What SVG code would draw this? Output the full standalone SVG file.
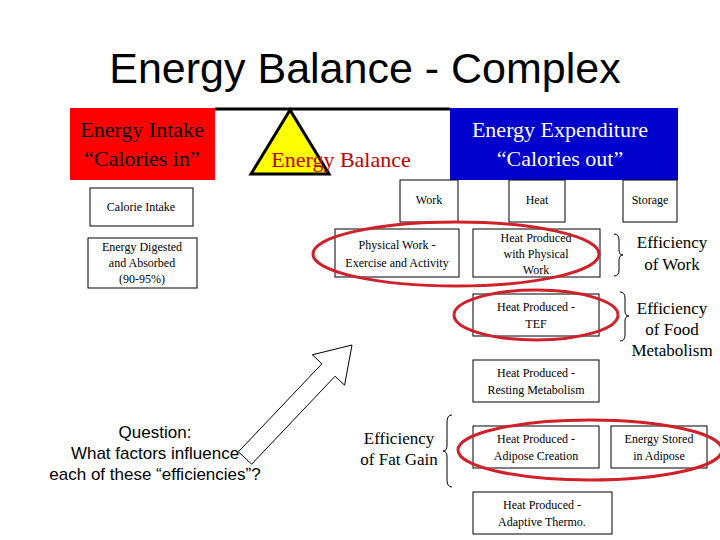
<svg xmlns="http://www.w3.org/2000/svg" width="720" height="540" viewBox="0 0 720 540">
<style>
.b{fill:#fff;stroke:#000;stroke-width:1}
.t{font-family:'Liberation Serif','Times New Roman',serif;font-size:12px;text-anchor:middle;fill:#000}
.e{font-family:'Liberation Serif','Times New Roman',serif;font-size:17px;text-anchor:middle;fill:#000}
.h{font-family:'Liberation Serif','Times New Roman',serif;font-size:22px;text-anchor:middle}
.r{fill:none;stroke:#d0202a;stroke-width:3}
.br{fill:none;stroke:#000;stroke-width:1}
</style>
<rect width="720" height="540" fill="#fff"/>
<text x="365" y="83" font-family="Liberation Sans,sans-serif" font-size="43" text-anchor="middle">Energy Balance - Complex</text>
<g id="top">
<line x1="215" y1="109" x2="450" y2="109" stroke="#000" stroke-width="3"/>
<rect id="intake" x="70" y="108" width="145" height="72" fill="#ff0000"/>
<text class="h" x="142" y="137">Energy Intake</text>
<text class="h" x="142" y="166">“Calories in”</text>
<rect id="expend" x="450" y="108" width="228" height="72" fill="#0000cc"/>
<text class="h" x="560" y="137" fill="#fff">Energy Expenditure</text>
<text class="h" x="560" y="166" fill="#fff">“Calories out”</text>
<polygon id="balance" points="290,110 251,174 329,174" fill="#ffff00" stroke="#000" stroke-width="3"/>
<text class="h" x="341" y="167" fill="#c00000">Energy Balance</text>
</g>
<g id="n1"><rect class="b" x="90" y="188" width="103" height="38"/><text class="t" x="141" y="211">Calorie Intake</text></g>
<g id="n2"><rect class="b" x="88" y="238" width="109" height="50"/><text class="t" x="142" y="251">Energy Digested</text><text class="t" x="142" y="267">and Absorbed</text><text class="t" x="142" y="283">(90-95%)</text></g>
<g id="n3"><rect class="b" x="400" y="180" width="58" height="42"/><text class="t" x="429" y="204">Work</text></g>
<g id="n4"><rect class="b" x="509" y="180" width="56" height="42"/><text class="t" x="537" y="204">Heat</text></g>
<g id="n5"><rect class="b" x="623" y="180" width="54" height="42"/><text class="t" x="650" y="204">Storage</text></g>
<g id="n6"><rect class="b" x="335" y="229" width="124" height="48"/><text class="t" x="397" y="249">Physical Work -</text><text class="t" x="397" y="267">Exercise and Activity</text></g>
<g id="n7"><rect class="b" x="473" y="229" width="127" height="48"/><text class="t" x="536" y="242">Heat Produced</text><text class="t" x="536" y="258">with Physical</text><text class="t" x="536" y="274">Work</text></g>
<g id="n8"><rect class="b" x="473" y="294" width="126" height="42"/><text class="t" x="536" y="311">Heat Produced -</text><text class="t" x="536" y="328">TEF</text></g>
<g id="n9"><rect class="b" x="473" y="360" width="126" height="42"/><text class="t" x="536" y="377">Heat Produced -</text><text class="t" x="536" y="394">Resting Metabolism</text></g>
<g id="n10"><rect class="b" x="473" y="426" width="126" height="42"/><text class="t" x="536" y="443">Heat Produced -</text><text class="t" x="536" y="460">Adipose Creation</text></g>
<g id="n11"><rect class="b" x="611" y="426" width="96" height="42"/><text class="t" x="659" y="443">Energy Stored</text><text class="t" x="659" y="460">in Adipose</text></g>
<g id="n12"><rect class="b" x="473" y="492" width="139" height="42"/><text class="t" x="542" y="509">Heat Produced -</text><text class="t" x="542" y="526">Adaptive Thermo.</text></g>
<g id="connectors">
<ellipse class="r" cx="456" cy="254" rx="143" ry="32"/>
<ellipse class="r" cx="536" cy="315" rx="82" ry="25"/>
<ellipse class="r" cx="590" cy="450" rx="132" ry="30"/>
<path class="br" d="M614,234 Q619,234 619,240 L619,250 Q619,255 623,255 Q619,255 619,260 L619,270 Q619,276 614,276"/>
<path class="br" d="M620,292 Q625,292 625,298 L625,311 Q625,316 629,316 Q625,316 625,321 L625,335 Q625,341 620,341"/>
<path class="br" d="M452,415 Q447,415 447,422 L447,445 Q447,451 443,451 Q447,451 447,457 L447,480 Q447,487 452,487"/>
<polygon points="238.4,451.8 321.9,363.8 312.4,354.8 352,345 344.6,385.2 335.1,376.2 251.6,464.2" fill="#fff" stroke="#000" stroke-width="1"/>
</g>
<text class="e" x="672" y="248">Efficiency</text><text class="e" x="672" y="270">of Work</text>
<text class="e" x="672" y="314">Efficiency</text><text class="e" x="672" y="335">of Food</text><text class="e" x="672" y="356">Metabolism</text>
<text class="e" x="399" y="444">Efficiency</text><text class="e" x="399" y="465">of Fat Gain</text>
<g font-family="Liberation Sans,sans-serif" font-size="17" text-anchor="middle"><text x="155" y="438">Question:</text><text x="155" y="459">What factors influence</text><text x="155" y="480">each of these “efficiencies”?</text></g>
</svg>
